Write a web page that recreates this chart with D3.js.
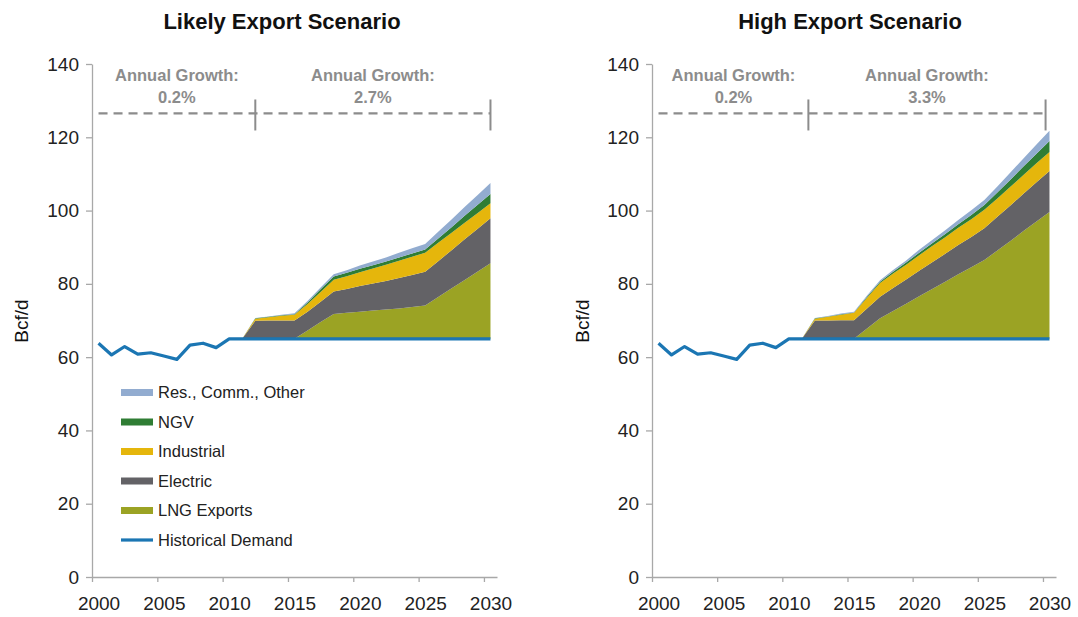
<!DOCTYPE html>
<html><head><meta charset="utf-8">
<script src="https://cdn.jsdelivr.net/npm/d3@7"></script>
<style>
body{margin:0;background:#fff}
svg{display:block}
text{font-family:"Liberation Sans",Arial,sans-serif}
</style>
</head><body>
<svg id="chart" width="1078" height="617"></svg>
<script>
// ---------- DATA ----------
const categories = [2000,2001,2002,2003,2004,2005,2006,2007,2008,2009,2010,2011,2012,2013,2014,2015,2016,2017,2018,2019,2020,2021,2022,2023,2024,2025,2026,2027,2028,2029,2030];
const xTickLabels = ["2000","2005","2010","2015","2020","2025","2030"];
const yTicks = [0,20,40,60,80,100,120,140];

// Historical demand line (continued flat as projection base)
const histDemand = [63.8,60.6,62.9,60.8,61.2,60.3,59.4,63.3,63.8,62.6,65.0,65.0,65.0,65.0,65.0,65.0,65.0,65.0,65.0,65.0,65.0,65.0,65.0,65.0,65.0,65.0,65.0,65.0,65.0,65.0,65.0];

const projYears = [2011,2012,2013,2014,2015,2016,2017,2018,2019,2020,2021,2022,2023,2024,2025,2026,2027,2028,2029,2030];
const projBase = 65.0;

const seriesNames = ["LNG Exports","Electric","Industrial","NGV","Res., Comm., Other"];
const seriesColors = ["#9ba324","#636266","#e5b60c","#2f7d34","#92acd0"];
const histColor = "#1b76b3";

// Likely Export Scenario increments (Bcf/d above 65)
const likelyLNG   = [0,0,0,0,0,2.3,4.6,6.8,7.1,7.4,7.7,8.0,8.3,8.7,9.1,11.4,13.7,16.0,18.3,20.6];
const likelyElec  = [0,4.9,5.0,5.0,5.0,5.1,5.5,6.1,6.5,7.0,7.4,7.8,8.3,8.7,9.2,9.8,10.4,11.1,11.7,12.3];
const likelyInd   = [0,0.6,0.9,1.3,1.6,2.1,2.7,3.2,3.5,3.8,4.1,4.4,4.7,5.0,5.2,5.0,4.8,4.5,4.3,4.1];
const likelyNGV   = [0,0.1,0.1,0.1,0.1,0.4,0.7,0.9,0.9,0.9,0.9,0.9,0.9,0.9,0.9,1.2,1.5,1.9,2.2,2.5];
const likelyRes   = [0,0.1,0.1,0.2,0.3,0.4,0.5,0.6,0.7,0.9,1.0,1.1,1.3,1.4,1.5,1.8,2.1,2.4,2.7,3.0];

// High Export Scenario increments
const highLNG   = [0,0,0,0,0,2.8,5.6,7.6,9.6,11.6,13.6,15.6,17.6,19.5,21.5,24.1,26.7,29.4,32.0,34.6];
const highElec  = [0,5.0,5.0,5.1,5.1,5.5,5.9,6.3,6.6,7.0,7.3,7.6,8.0,8.3,8.7,9.2,9.7,10.2,10.7,11.2];
const highInd   = [0,0.5,1.0,1.5,2.0,2.9,3.7,3.9,4.0,4.2,4.4,4.5,4.7,4.8,5.0,5.0,5.1,5.1,5.2,5.2];
const highNGV   = [0,0.1,0.1,0.1,0.1,0.3,0.4,0.5,0.6,0.7,0.8,0.9,1.0,1.2,1.3,1.6,1.9,2.3,2.6,3.0];
const highRes   = [0,0.1,0.1,0.2,0.2,0.3,0.4,0.5,0.6,0.8,0.9,1.0,1.1,1.3,1.4,1.7,2.0,2.2,2.5,2.8];

// Annotations
const likelyGrowth = ["0.2%","2.7%"];
const highGrowth = ["0.2%","3.3%"];
const likelyMarks = [2000,2012,2030];
const highMarks = [2000,2011.5,2029.7];
const annotLevel = 126.5;

// ---------- DRAW ----------
const svg = d3.select("#chart");

function panel(cfg){
  const g = svg.append("g");
  const x = d3.scaleLinear().domain([categories[0]-0.5, categories[categories.length-1]+0.5]).range([cfg.x0, cfg.x1]);
  const y = d3.scaleLinear().domain([0,140]).range([577,64]);

  // title
  g.append("text").attr("x", cfg.titleX).attr("y", 29).attr("text-anchor","middle")
    .attr("font-size","22px").attr("font-weight","bold").attr("fill","#111").text(cfg.title);

  // y label
  g.append("text").attr("transform",`translate(${cfg.yLabelX},321) rotate(-90)`)
    .attr("text-anchor","middle").attr("font-size","19px").attr("fill","#111").text("Bcf/d");

  // stacked areas
  const rows = projYears.map((yr,i)=>({year:yr, "LNG Exports":cfg.s[0][i], "Electric":cfg.s[1][i], "Industrial":cfg.s[2][i], "NGV":cfg.s[3][i], "Res., Comm., Other":cfg.s[4][i]}));
  const stack = d3.stack().keys(seriesNames)(rows);
  const area = d3.area().x(d=>x(d.data.year)).y0(d=>y(projBase+d[0])).y1(d=>y(projBase+d[1]));
  g.selectAll("path.layer").data(stack).join("path").attr("class","layer")
    .attr("d",area).attr("fill",(d,i)=>seriesColors[i]);

  // historical line
  const line = d3.line().x((d,i)=>x(categories[i])).y(d=>y(d));
  g.append("path").attr("d",line(histDemand)).attr("fill","none")
    .attr("stroke",histColor).attr("stroke-width",3.2).attr("stroke-linejoin","round");

  // axes
  const yAx = g.append("g").attr("transform",`translate(${cfg.x0},0)`)
    .call(d3.axisLeft(y).tickValues(yTicks).tickSize(6).tickPadding(7).tickSizeOuter(0));
  yAx.selectAll("text").attr("font-size","19px").attr("fill","#222").style("font-family","'Liberation Sans',Arial,sans-serif");
  yAx.selectAll("line,path").attr("stroke","#a8a8a8").attr("stroke-width",1.3);

  const bounds = xTickLabels.map(t=>+t-0.5);
  const xAx = g.append("g").attr("transform","translate(0,577)")
    .call(d3.axisBottom(x).tickValues(bounds).tickSize(5).tickFormat("").tickSizeOuter(0));
  xAx.selectAll("line,path").attr("stroke","#a8a8a8").attr("stroke-width",1.3);
  const xLab = g.append("g").attr("transform","translate(0,577)")
    .call(d3.axisBottom(x).tickValues(xTickLabels.map(Number)).tickSize(0).tickPadding(20).tickFormat(d3.format("d")));
  xLab.select(".domain").remove();
  xLab.selectAll("text").attr("font-size","19px").attr("fill","#222").style("font-family","'Liberation Sans',Arial,sans-serif");

  // annotation dashed line
  const ya = y(annotLevel);
  const m = cfg.marks;
  g.append("line").attr("x1",x(m[0])).attr("x2",x(m[2])).attr("y1",ya).attr("y2",ya)
    .attr("stroke","#8c8c8c").attr("stroke-width",2.2).attr("stroke-dasharray","9,6");
  [m[1],m[2]].forEach(v=>{
    g.append("line").attr("x1",x(v)).attr("x2",x(v)).attr("y1",ya-14).attr("y2",ya+17)
      .attr("stroke","#8c8c8c").attr("stroke-width",2);
  });
  [[m[0],m[1],cfg.growth[0]],[m[1],m[2],cfg.growth[1]]].forEach(([a,b,t])=>{
    const cx = x((a+b)/2);
    g.append("text").attr("x",cx).attr("y",81).attr("text-anchor","middle")
      .attr("font-size","16.5px").attr("font-weight","bold").attr("fill","#8c8c8c").text("Annual Growth:");
    g.append("text").attr("x",cx).attr("y",103).attr("text-anchor","middle")
      .attr("font-size","16.5px").attr("font-weight","bold").attr("fill","#8c8c8c").text(t);
  });

  // legend
  if(cfg.legend){
    const items = seriesNames.slice().reverse().map((n,i)=>({name:n,color:seriesColors[seriesNames.length-1-i],h:7}));
    items.push({name:"Historical Demand",color:histColor,h:3.2});
    const lg = g.append("g");
    items.forEach((it,i)=>{
      const yy = 392.5 + i*29.5;
      lg.append("rect").attr("x",121).attr("y",yy-it.h/2).attr("width",32).attr("height",it.h).attr("fill",it.color);
      lg.append("text").attr("x",158).attr("y",yy).attr("dy","0.36em").attr("font-size","16.5px").attr("fill","#222").text(it.name);
    });
  }
}

panel({title:"Likely Export Scenario", titleX:282, yLabelX:28, x0:92, x1:497,
  s:[likelyLNG,likelyElec,likelyInd,likelyNGV,likelyRes], marks:likelyMarks, growth:likelyGrowth, legend:true});
panel({title:"High Export Scenario", titleX:850, yLabelX:589, x0:652, x1:1056,
  s:[highLNG,highElec,highInd,highNGV,highRes], marks:highMarks, growth:highGrowth, legend:false});
</script>
</body></html>
